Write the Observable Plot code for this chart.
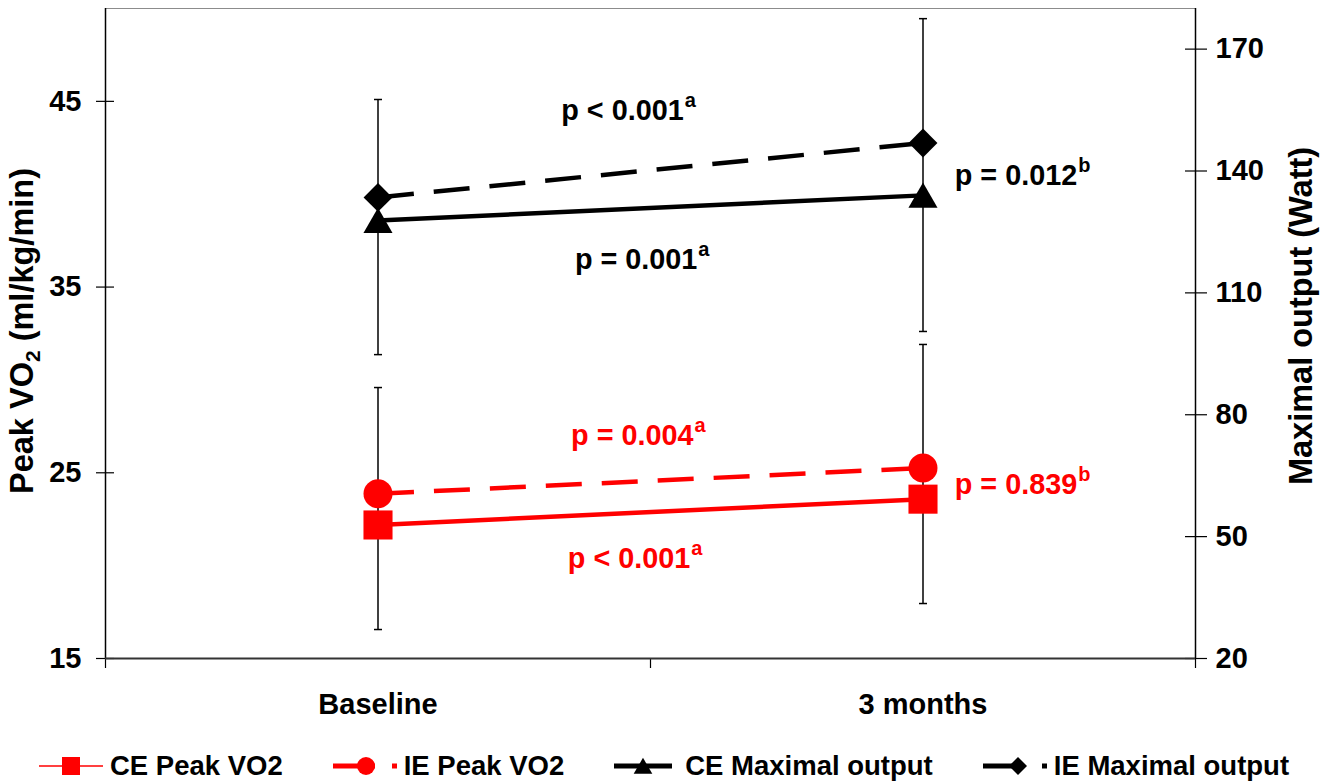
<!DOCTYPE html>
<html>
<head>
<meta charset="utf-8">
<script src="https://cdn.jsdelivr.net/npm/d3@7"></script>
<script src="https://cdn.jsdelivr.net/npm/@observablehq/plot@0.6"></script>
<style>
  body { margin: 0; background: #fff; font-family: Arial, "Liberation Sans", sans-serif; }
  #chart { width: 1333px; }
  #legend {
    box-sizing: border-box; height: 63px; padding: 29px 0 0 39px;
    display: flex; align-items: center; gap: 50px;
    font-weight: bold; font-size: 27.5px; color: #000;
  }
  .item { display: flex; align-items: center; gap: 7px; }
  .item svg { display: block; }
</style>
</head>
<body>
<div id="chart"></div>
<div id="legend"></div>
<script>
// Time points of the exercise trial
const timepoints = ["Baseline", "3 months"];

// Means: peak VO2 (ml/kg/min) on the left axis, maximal output (Watt) on the right axis
const ceVO2 = [22.19, 23.58];
const ieVO2 = [23.87, 25.26];
const ceOutput = [127.8, 134.0];
const ieOutput = [133.5, 146.9];

// Error bar extents
const vo2ErrLow = [16.56, 17.96];
const vo2ErrHigh = [29.59, 31.91];
const outputErrLow = [94.8, 100.5];
const outputErrHigh = [157.6, 177.5];

// Axis ticks
const vo2Ticks = [15, 25, 35, 45];
const outputTicks = [20, 50, 80, 110, 140, 170];

// Significance annotations (x in time-point units, y in VO2 units)
const pNotes = [
  { text: "p < 0.001", note: "a", x: 1.061, y: 44.02, group: "output" },
  { text: "p = 0.001", note: "a", x: 1.086, y: 36.00, group: "output" },
  { text: "p = 0.012", note: "b", x: 1.783, y: 40.52, group: "output" },
  { text: "p = 0.004", note: "a", x: 1.079, y: 26.47, group: "vo2" },
  { text: "p < 0.001", note: "a", x: 1.073, y: 19.90, group: "vo2" },
  { text: "p = 0.839", note: "b", x: 1.783, y: 23.88, group: "vo2" }
];

// The right axis (Watt, 20–180) shares the frame with the left axis (VO2, 15–50)
const vo2Domain = [15, 50];
const outputDomain = [20, 180];
const toLeft = w => vo2Domain[0] + (w - outputDomain[0]) * (vo2Domain[1] - vo2Domain[0]) / (outputDomain[1] - outputDomain[0]);
const toRight = v => outputDomain[0] + (v - vo2Domain[0]) * (outputDomain[1] - outputDomain[0]) / (vo2Domain[1] - vo2Domain[0]);

const RED = "#ff0000", BLACK = "#000000";
const groupColor = { vo2: RED, output: BLACK };

const series = [
  { name: "CE Peak VO2", values: ceVO2, right: false, color: RED, dash: null, symbol: "square", r: 16.4, dy: 0, d3sym: d3.symbolSquare, lsize: 324 },
  { name: "IE Peak VO2", values: ieVO2, right: false, color: RED, dash: "36,20", symbol: "circle", r: 14.5, dy: 0, d3sym: d3.symbolCircle, lsize: 254 },
  { name: "CE Maximal output", values: ceOutput, right: true, color: BLACK, dash: null, symbol: "triangle", r: 10.8, dy: 4, d3sym: d3.symbolTriangle, lsize: 150 },
  { name: "IE Maximal output", values: ieOutput, right: true, color: BLACK, dash: "36,20", symbol: "diamond2", r: 13, dy: 0, d3sym: d3.symbolDiamond2, lsize: 206 }
];

const rowsOf = s => timepoints.map((t, i) => ({ t, x: i + 0.5, y: s.right ? toLeft(s.values[i]) : s.values[i] }));

const errRows = [
  ...timepoints.map((t, i) => ({ x: i + 0.5, lo: toLeft(outputErrLow[i]), hi: toLeft(outputErrHigh[i]) })),
  ...timepoints.map((t, i) => ({ x: i + 0.5, lo: vo2ErrLow[i], hi: vo2ErrHigh[i] }))
];

// Horizontal cap drawn as a custom symbol
const capSymbol = { draw(ctx, size) { const w = Math.sqrt(size); ctx.moveTo(-w / 2, 0); ctx.lineTo(w / 2, 0); } };

const marks = [
  // frame
  Plot.ruleY([vo2Domain[1]], { stroke: "#8c8c8c", strokeWidth: 1 }),
  Plot.ruleX([0, timepoints.length], { y1: vo2Domain[0], y2: vo2Domain[1], stroke: BLACK, strokeWidth: 1.5 }),
  // category axis: separators and labels
  Plot.axisX({ ticks: d3.range(timepoints.length + 1), tickSize: 10, fill: "none", stroke: BLACK, strokeWidth: 1.2, label: null }),
  Plot.axisX({ ticks: timepoints.map((t, i) => i + 0.5), tickSize: 0, tickPadding: 35, tickFormat: d => timepoints[Math.floor(d)], label: null }),
  // left axis
  Plot.axisY({ ticks: vo2Ticks, tickSize: 18, dx: 9, fill: "none", stroke: BLACK, strokeWidth: 1.2, label: null }),
  Plot.axisY({ ticks: vo2Ticks, tickSize: 0, tickPadding: 24, label: null }),
  // right axis
  Plot.axisY({ anchor: "right", ticks: outputTicks.map(toLeft), tickSize: 22, dx: -11, fill: "none", stroke: BLACK, strokeWidth: 1.2, label: null }),
  Plot.axisY({ anchor: "right", ticks: outputTicks.map(toLeft), tickSize: 0, tickPadding: 20, tickFormat: d => Math.round(toRight(d)), textAnchor: "start", label: null }),
  Plot.ruleY([vo2Domain[0]], { stroke: "#333", strokeWidth: 2 }),
  // error bars
  Plot.ruleX(errRows, { x: "x", y1: "lo", y2: "hi", stroke: BLACK, strokeWidth: 1.5 }),
  Plot.dot(errRows, { x: "x", y: "lo", symbol: capSymbol, r: 4.5, fill: "none", stroke: BLACK, strokeWidth: 1.5 }),
  Plot.dot(errRows, { x: "x", y: "hi", symbol: capSymbol, r: 4.5, fill: "none", stroke: BLACK, strokeWidth: 1.5 })
];

for (const s of series) {
  marks.push(Plot.line(rowsOf(s), { x: "x", y: "y", stroke: s.color, strokeWidth: 4.5, strokeDasharray: s.dash, strokeLinecap: "butt" }));
}
for (const s of series) {
  marks.push(Plot.dot(rowsOf(s), { x: "x", y: "y", symbol: s.symbol, r: s.r, fill: s.color, stroke: "none", dy: s.dy }));
}

// p-values with superscript footnote letters
marks.push(
  Plot.text(pNotes, { x: "x", y: "y", text: "text", fill: d => groupColor[d.group], textAnchor: "end", lineAnchor: "bottom", fontSize: 28.8, fontWeight: "bold" }),
  Plot.text(pNotes, { x: "x", y: "y", text: "note", fill: d => groupColor[d.group], textAnchor: "start", lineAnchor: "bottom", dx: 1, dy: -13, fontSize: 20, fontWeight: "bold" })
);

const chart = Plot.plot({
  width: 1333,
  height: 720,
  marginTop: 8,
  marginBottom: 62,
  marginLeft: 105,
  marginRight: 138,
  x: { domain: [0, timepoints.length] },
  y: { domain: vo2Domain },
  style: { fontFamily: "Arial, 'Liberation Sans', sans-serif", fontSize: "29px", fontWeight: "bold", color: "#000", background: "#fff" },
  marks
});

// Axis titles with subscript
const svg = d3.select(chart);
const leftTitle = svg.append("text")
  .attr("transform", "translate(33,331) rotate(-90)")
  .attr("text-anchor", "middle")
  .attr("fill", "#000")
  .style("font-size", "32.5px").style("font-weight", "bold");
leftTitle.append("tspan").text("Peak VO");
leftTitle.append("tspan").attr("dy", 7).style("font-size", "21px").text("2");
leftTitle.append("tspan").attr("dy", -7).text(" (ml/kg/min)");

svg.append("text")
  .attr("transform", "translate(1312,316) rotate(-90)")
  .attr("text-anchor", "middle")
  .attr("fill", "#000")
  .style("font-size", "32.5px").style("font-weight", "bold")
  .text("Maximal output (Watt)");

document.getElementById("chart").append(chart);

// Legend
const legend = d3.select("#legend");
const swatchSpec = [
  { line: [0, 64], width: 1.5, dash: null, marker: 32 },
  { line: [0, 64], width: 5, dash: "42 17 5 100", marker: 33 },
  { line: [0, 58], width: 5, dash: null, marker: 29 },
  { line: [0, 64], width: 5, dash: "31 28 5 100", marker: 35 }
];
series.forEach((s, i) => {
  const spec = swatchSpec[i];
  const item = legend.append("div").attr("class", "item");
  const sw = item.append("svg").attr("width", 64).attr("height", 30);
  sw.append("line")
    .attr("x1", spec.line[0]).attr("x2", spec.line[1]).attr("y1", 15).attr("y2", 15)
    .attr("stroke", s.color).attr("stroke-width", spec.width)
    .attr("stroke-dasharray", spec.dash);
  sw.append("path")
    .attr("d", d3.symbol(s.d3sym, s.lsize)())
    .attr("transform", `translate(${spec.marker},${15 + (s.dy ? 2.5 : 0)})`)
    .attr("fill", s.color);
  item.append("span").text(s.name);
});
</script>
</body>
</html>
